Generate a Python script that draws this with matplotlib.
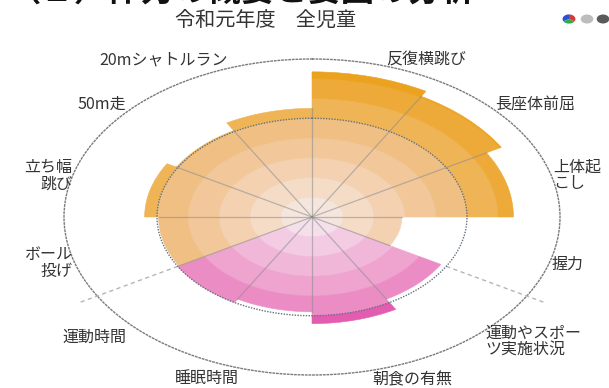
import numpy as np
import matplotlib
matplotlib.use('Agg')
import matplotlib.pyplot as plt
from matplotlib.patches import Wedge, Ellipse

plt.rcParams['font.family'] = ['Noto Sans CJK JP', 'DejaVu Sans']

# ---------------- data ----------------
categories = ['反復横跳び', '長座体前屈', '上体起こし', '握力',
              '運動やスポーツ実施状況', '朝食の有無', '睡眠時間', '運動時間',
              'ボール投げ', '立ち幅跳び', '50m走', '20mシャトルラン']
values = [73.5, 70.5, 65, 29, 48, 54, 48, 50, 49.5, 54, 50.5, 55]
groups = ['体力', '体力', '体力', '体力',
          '生活', '生活', '生活', '生活',
          '体力', '体力', '体力', '体力']
label_text = ['反復横跳び', '長座体前屈', '上体起\nこし', '握力',
              '運動やスポー\nツ実施状況', '朝食の有無', '睡眠時間', '運動時間',
              'ボール\n投げ', '立ち幅\n跳び', '50m走', '20mシャトルラン']
reference = 50
r_max = 80
band_step = 10
title = '令和元年度　全児童'
header = '（２）体力の概要と要因の分析'

# ---------------- styles ----------------
W, H = 609, 388
palettes = {
    '体力': ['#F4E6DD', '#F4DCC7', '#F3D1B1', '#F2C89B', '#F0BF84',
             '#EFB456', '#EDAA38', '#EBA21F'],
    '生活': ['#F5DFEB', '#F3CBE2', '#F1B7D8', '#EFA3CF', '#EC8CC5',
             '#E35CB0', '#DD4FA8', '#D84AA2'],
}


def px(x, y):
    return x / W, 1 - y / H


fig = plt.figure(figsize=(W / 100, H / 100), dpi=100)
fig.patch.set_facecolor('white')

cx, cy, a, b = 312, 217, 248, 158
ax = fig.add_axes([(cx - a) / W, (H - cy - b) / H, 2 * a / W, 2 * b / H],
                  projection='polar')
ax.set_aspect('auto')
ax.set_theta_zero_location('N')
ax.set_theta_direction(-1)
ax.set_ylim(0, r_max)
ax.set_xticks([])
ax.set_yticks([])
ax.grid(False)
ax.set_facecolor('none')
ax.spines['polar'].set_linestyle((0, (1, 1.6)))
ax.spines['polar'].set_color('#7a7a7a')
ax.spines['polar'].set_linewidth(1.0)

n = len(categories)
width = 2 * np.pi / n
thetas = np.arange(n) * width + width / 2

# stacked colour bands for each sector
for th, v, g in zip(thetas, values, groups):
    pal = palettes[g]
    for k in range(len(pal)):
        lo = k * band_step
        if v <= lo:
            break
        hi = min(v, lo + band_step)
        ax.bar(th, hi - lo, width=width, bottom=lo, color=pal[k],
               edgecolor=pal[k], linewidth=0.4, zorder=2)

# radial separators inside the bars
for j in range(n):
    th = j * width
    length = min(values[j - 1], values[j])
    ax.plot([th, th], [0, length], color='#8a8a8a', alpha=0.55, lw=0.9,
            zorder=3)
    if groups[j - 1] != groups[j]:
        ax.plot([th, th], [reference, r_max * 1.09], color='#b5b5b5',
                lw=1.0, ls=(0, (3, 2.5)), zorder=3, clip_on=False)

# reference circle
tt = np.linspace(0, 2 * np.pi, 500)
ax.plot(tt, np.full_like(tt, reference), color='#66727f', lw=1.0,
        ls=(0, (1, 1)), zorder=4)

# category labels
label_pos = [
    (426, 60, 'center'), (535, 104, 'center'), (553, 175, 'left'),
    (568, 264, 'center'), (485, 341, 'left'), (412, 380, 'center'),
    (207, 378, 'center'), (94, 337, 'center'), (72, 263, 'right'),
    (72, 176, 'right'), (102, 104, 'center'), (164, 60, 'center'),
]
for txt, (x, y, ha) in zip(label_text, label_pos):
    fx, fy = px(x, y)
    fig.text(fx, fy, txt, ha=ha, va='center', ma=ha, fontsize=11.5,
             color='#333333', linespacing=0.95)

# title
fx, fy = px(266, 20)
fig.text(fx, fy, title, ha='center', va='center', fontsize=14.5,
         color='#333333')

# cropped page header (only its lower edge shows in the reference)
fx, fy = px(8, 8.5)
fig.text(fx, fy, header, ha='left', va='bottom', fontsize=24,
         fontweight='bold', color='#111111')

# decorative icon (top right)
iax = fig.add_axes([555 / W, 1 - 25 / H, 54 / W, 12 / H])
sx = 1.4
iax.set_xlim(0, 54 / sx)
iax.set_ylim(0, 12)
iax.axis('off')
c1 = (569 - 555) / sx
for (t1, t2, col) in [(90, 210, '#2f4fd6'), (210, 330, '#2fae47'),
                      (330, 450, '#d83a3a')]:
    iax.add_patch(Wedge((c1, 6), 4.6, t1, t2, color=col, lw=0))
iax.add_patch(Ellipse(((587 - 555) / sx, 6), 9.0, 9.0, color='#bdbdbd',
                      lw=0))
iax.add_patch(Ellipse(((603 - 555) / sx, 6), 9.0, 9.0, color='#5a5a5a',
                      lw=0))

fig.savefig('out.png', dpi=100, facecolor='white')
